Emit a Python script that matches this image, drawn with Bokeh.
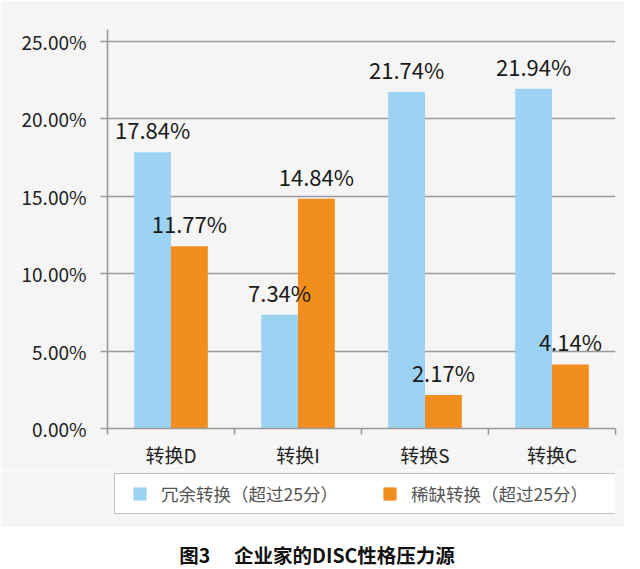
from bokeh.plotting import figure
from bokeh.models import (Range1d, FixedTicker, PrintfTickFormatter, Legend,
                          LegendItem, Div, ColumnDataSource)
from bokeh.layouts import column
from bokeh.transform import dodge
from bokeh.core.properties import value
from bokeh.embed import file_html
from bokeh.resources import INLINE

# ---- data ----
categories = ["转换D", "转换I", "转换S", "转换C"]
redundant = [17.84, 7.34, 21.74, 21.94]
scarce = [11.77, 14.84, 2.17, 4.14]
series_names = ["冗余转换（超过25分）", "稀缺转换（超过25分）"]
y_ticks = [0, 5, 10, 15, 20, 25]
chart_title = "图3\u3000 企业家的DISC性格压力源"

FONT = "Noto Sans CJK SC"
BLUE = "#9DD3F2"
ORANGE = "#F18E1E"
GRID = "#9a9a9a"
BG = "#f5f5f5"

centers = [i + 0.5 for i in range(len(categories))]
boundaries = list(range(len(categories) + 1))

src = ColumnDataSource(dict(
    x=centers,
    cat=categories,
    red=redundant,
    sca=scarce,
    red_lbl=[f"{v:.2f}%" for v in redundant],
    sca_lbl=[f"{v:.2f}%" for v in scarce],
))

# ---------------- main chart ----------------
p = figure(width=624, height=470, output_backend="svg", toolbar_location=None,
           x_range=Range1d(0, len(categories)), y_range=Range1d(0, 25.77),
           min_border_left=107, min_border_right=9, min_border_top=29,
           min_border_bottom=41,
           background_fill_color=BG, border_fill_color=BG,
           outline_line_color=None)

W = 0.29
OFF = 0.145
p.vbar(x=dodge("x", -OFF, range=p.x_range), top="red", width=W, source=src,
       fill_color=BLUE, line_color=None)
p.vbar(x=dodge("x", OFF, range=p.x_range), top="sca", width=W, source=src,
       fill_color=ORANGE, line_color=None)

for ycol, lcol, off in (("red", "red_lbl", -OFF), ("sca", "sca_lbl", OFF)):
    p.text(x=dodge("x", off, range=p.x_range), y=ycol, text=lcol,
           source=src, text_align="center", text_baseline="bottom",
           y_offset=-7, text_font=value(FONT), text_font_size="22px",
           text_color="#1a1a1a")

# x axis
xa = p.xaxis[0]
xa.ticker = FixedTicker(ticks=centers, minor_ticks=boundaries)
xa.major_label_overrides = {c: lab for c, lab in zip(centers, categories)}
xa.axis_line_color = GRID
xa.axis_line_width = 1.6
xa.major_tick_line_color = None
xa.major_tick_out = 0
xa.major_tick_in = 0
xa.minor_tick_line_color = GRID
xa.minor_tick_line_width = 1.6
xa.minor_tick_out = 6
xa.minor_tick_in = 0
xa.major_label_standoff = 6
xa.major_label_text_font = FONT
xa.major_label_text_font_size = "19px"
xa.major_label_text_color = "#222222"

# y axis
ya = p.yaxis[0]
ya.ticker = FixedTicker(ticks=y_ticks, minor_ticks=[])
ya.formatter = PrintfTickFormatter(format="%.2f%%")
ya.axis_line_color = GRID
ya.axis_line_width = 1.6
ya.major_tick_line_color = GRID
ya.major_tick_line_width = 1.6
ya.major_tick_out = 7
ya.major_tick_in = 0
ya.minor_tick_line_color = None
ya.major_label_standoff = 14
ya.major_label_text_font = FONT
ya.major_label_text_font_size = "19px"
ya.major_label_text_color = "#222222"

p.xgrid.visible = False
p.ygrid.grid_line_color = GRID
p.ygrid.grid_line_width = 1.6

# ---------------- legend strip ----------------
# same side borders as the chart, so its frame lines up with the chart's frame;
# the markers below lie outside this strip's y range (only their legend swatches show)
lg = figure(width=624, height=57, output_backend="svg", toolbar_location=None,
            x_range=Range1d(0, len(categories)), y_range=Range1d(-2, -1),
            x_axis_location=None, y_axis_location=None,
            min_border_left=107, min_border_right=9, min_border_top=0,
            min_border_bottom=0,
            background_fill_color=BG, border_fill_color=BG,
            outline_line_color=None)
lg.xgrid.visible = False
lg.ygrid.visible = False
m1 = lg.scatter(x="x", y="red", source=src, marker="square",
                fill_color=BLUE, line_color=None)
m2 = lg.scatter(x="x", y="sca", source=src, marker="square",
                fill_color=ORANGE, line_color=None)

legend = Legend(items=[LegendItem(label=series_names[0], renderers=[m1]),
                       LegendItem(label=series_names[1], renderers=[m2])],
                orientation="horizontal", location=(7, 13),
                glyph_width=43, glyph_height=33, label_standoff=-6,
                label_width=203, spacing=4, padding=3, margin=0,
                label_text_font=FONT, label_text_font_size="17.5px",
                label_text_color="#555555",
                border_line_color="#888888", border_line_width=1.5,
                background_fill_color="white", background_fill_alpha=1.0)
lg.add_layout(legend, "center")

# ---------------- caption ----------------
title = Div(text=(f'<div style="width:624px;text-align:center;font-weight:bold;'
                  f'font-size:19.5px;line-height:20px;padding-top:13px;color:#111;'
                  f'white-space:pre;font-family:\'{FONT}\';">{chart_title}</div>'),
            width=624, height=26,
            styles={"overflow": "visible", "text-align": "center"})

layout = column(p, lg, title, spacing=0)
open("out.html", "w").write(file_html(layout, INLINE))
